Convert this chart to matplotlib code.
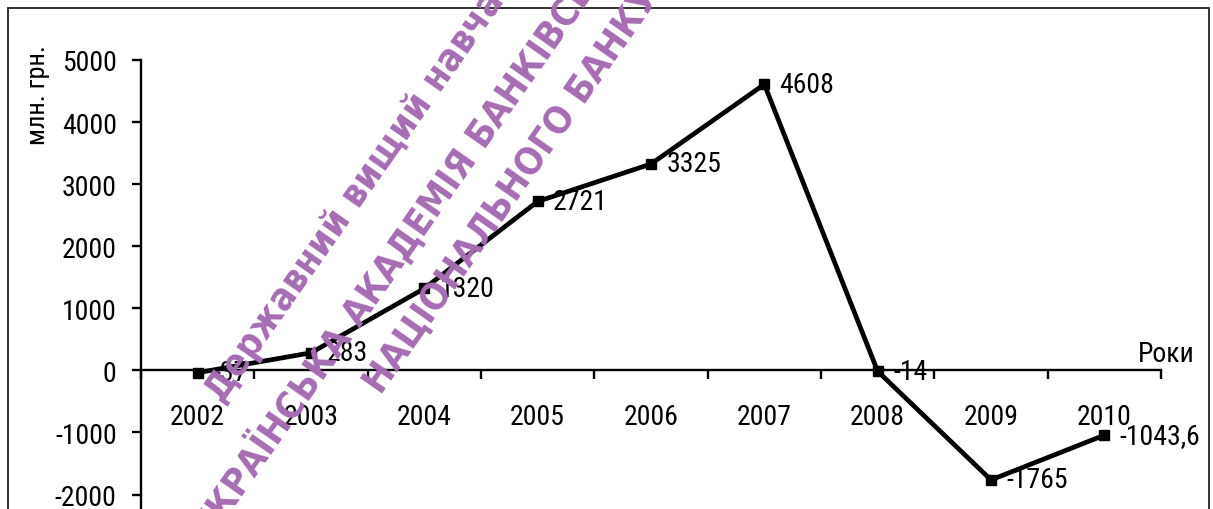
import matplotlib.pyplot as plt
from matplotlib.patches import Rectangle

plt.rcParams['font.family'] = ['Roboto Condensed', 'DejaVu Sans']
plt.rcParams['axes.unicode_minus'] = False

years = ["2002", "2003", "2004", "2005", "2006", "2007", "2008", "2009", "2010"]
values = [-37, 283, 1320, 2721, 3325, 4608, -14, -1765, -1043.6]
y_ticks = [-2000, -1000, 0, 1000, 2000, 3000, 4000, 5000]

watermark = [
    "Державний вищий навчальний заклад",
    "УКРАЇНСЬКА АКАДЕМІЯ БАНКІВСЬКОЇ СПРАВИ",
    "НАЦІОНАЛЬНОГО БАНКУ УКРАЇНИ",
]

W, H = 1213, 510
fig = plt.figure(figsize=(W / 100, H / 100), dpi=100)
ax = fig.add_axes([141 / W, (H - 557.6) / H, 1020 / W, (557.6 - 61) / H])

x = list(range(len(years)))
ax.plot(x, values, color="black", lw=3.4, marker="s", markersize=7.5, zorder=3)
for xi, v in zip(x, values):
    ax.annotate(f"{v:g}".replace(".", ","), (xi, v), xytext=(11, 0),
                textcoords="offset points", ha="left", va="center", fontsize=20)

ax.set_xlim(-0.5, len(years) - 0.5)
ax.set_ylim(-3000, 5000)
ax.set_yticks(y_ticks)
ax.set_yticklabels([str(t) for t in y_ticks])

ax.spines["top"].set_visible(False)
ax.spines["right"].set_visible(False)
ax.spines["bottom"].set_position(("data", 0))
for s in ("left", "bottom"):
    ax.spines[s].set_linewidth(1.7)

ax.set_xticks([i - 0.5 for i in range(len(years) + 1)])
ax.set_xticklabels([])
ax.set_xticks(x, minor=True)
ax.set_xticklabels(years, minor=True)
ax.tick_params(axis="x", which="major", direction="out", length=6.5, width=1.7)
ax.tick_params(axis="x", which="minor", length=0, pad=23.5, labelsize=20)
ax.tick_params(axis="y", direction="out", length=6.5, width=1.7, pad=11, labelsize=20)

ax.annotate("Роки", xy=(1, 0), xycoords=("axes fraction", "data"), xytext=(24.5, 6.5),
            textcoords="offset points", ha="right", va="baseline", fontsize=20)
fig.text(38 / W, 1 - 45 / H, "млн. грн.", rotation=90, ha="center", va="top", fontsize=19)

# outer frame
fig.patches.append(Rectangle((8 / W, -0.1), (1209 - 8) / W, 1 - 9 / H + 0.1,
                             transform=fig.transFigure, fill=False, lw=1.3, ec="#222222"))

# watermark
starts = [(222, 404), (210, 543), (381, 396)]
for txt, (px, py) in zip(watermark, starts):
    fig.text(px / W, 1 - py / H, txt, rotation=55, rotation_mode="anchor",
             ha="left", va="baseline", fontsize=27, fontweight="bold", fontstretch="condensed",
             family=["DejaVu Sans"], color="#a56db3", zorder=10)

fig.savefig("out.png", dpi=100)
